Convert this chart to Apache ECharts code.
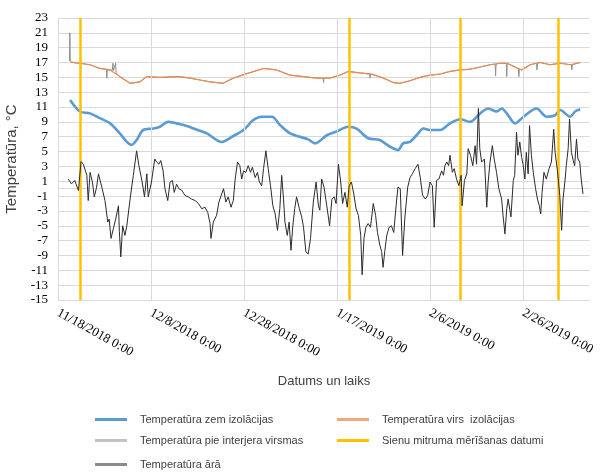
<!DOCTYPE html>
<html><head><meta charset="utf-8">
<script src="https://cdn.jsdelivr.net/npm/echarts@6/dist/echarts.min.js"></script>
<style>html,body{margin:0;padding:0;background:#fff}#c{width:600px;height:476px}</style>
</head><body><div id="c"></div>
<script>
// x = days since 11/18/2018 0:00
const xTickLabels = ['11/18/2018 0:00','12/8/2018 0:00','12/28/2018 0:00','1/17/2019 0:00','2/6/2019 0:00','2/26/2019 0:00'];
const seriesNames = ['Temperatūra zem izolācijas','Temperatūra virs  izolācijas','Temperatūra pie interjera virsmas','Sienu mitruma mērīšanas datumi','Temperatūra ārā'];

const underInsulation = [[2.6,11.95],[4.7,10.4],[6.9,10.15],[9.0,9.5],[11.2,8.8],[13.3,7.45],[14.8,6.3],[15.8,5.9],[16.9,6.55],[18.3,7.9],[20.5,8.1],[21.9,8.35],[23.7,9.0],[25.5,8.8],[27.7,8.45],[30.5,7.8],[32.0,7.45],[35.2,6.3],[37.7,7.1],[39.9,7.9],[42.0,9.25],[43.8,9.7],[46.0,9.7],[47.7,8.6],[49.9,7.45],[52.0,7.0],[53.8,6.65],[55.3,6.1],[57.8,7.2],[59.9,7.7],[62.4,8.35],[64.2,8.1],[66.7,6.8],[69.2,6.55],[71.4,5.65],[73.1,5.2],[74.2,6.1],[75.7,6.3],[77.1,7.2],[78.6,8.1],[80.0,7.9],[82.2,7.9],[84.3,8.8],[86.5,9.35],[88.6,9.0],[90.8,10.15],[92.5,10.8],[94.3,10.4],[95.4,10.8],[96.5,10.15],[98.3,8.8],[100.1,9.7],[102.9,10.8],[105.1,9.7],[106.9,9.9],[108.0,10.6],[110.1,9.7],[111.2,10.4],[112.3,10.7]];

const aboveInsulation = [[2.6,17.1],[4.7,16.9],[6.9,16.7],[9.0,16.2],[11.2,16.0],[13.3,15.1],[15.5,14.2],[17.6,14.4],[19.1,15.1],[21.9,15.0],[26.2,15.1],[28.4,14.9],[30.5,14.65],[32.7,14.4],[35.5,14.2],[37.7,14.9],[40.6,15.5],[44.2,16.2],[47.0,16.0],[49.9,15.3],[52.8,15.1],[55.6,14.9],[58.5,14.9],[60.6,15.3],[62.4,15.8],[64.9,15.6],[67.5,15.45],[70.0,14.9],[72.1,14.3],[73.5,14.2],[75.7,14.55],[77.8,15.0],[80.0,15.3],[82.2,15.45],[84.3,15.8],[86.5,16.0],[88.6,16.1],[90.8,16.4],[92.9,16.7],[95.1,16.9],[96.5,16.9],[98.3,16.4],[99.7,16.0],[101.5,16.7],[103.7,17.0],[105.8,16.7],[108.0,16.9],[110.1,16.7],[112.3,17.0]];

const interiorSurface = [[2.45,17.2],[2.55,21.0],[2.65,17.3],[2.9,17.0],[4.7,16.9],[6.9,16.7],[9.0,16.2],[10.4,16.1],[10.5,14.9],[10.6,16.0],[11.2,16.0],[11.7,16.0],[11.8,16.9],[11.9,15.9],[12.3,15.8],[12.4,16.9],[12.5,15.6],[13.3,15.1],[15.5,14.2],[17.6,14.4],[19.1,15.1],[21.9,15.0],[26.2,15.1],[28.4,14.9],[30.5,14.65],[32.7,14.4],[35.5,14.2],[37.7,14.9],[40.6,15.5],[44.2,16.2],[47.0,16.0],[49.9,15.3],[52.8,15.1],[55.6,14.9],[57.0,14.9],[57.1,14.3],[57.2,14.9],[58.5,14.9],[60.6,15.3],[62.4,15.8],[64.9,15.6],[67.0,15.45],[67.1,14.9],[67.2,15.45],[70.0,14.9],[72.1,14.3],[73.5,14.2],[75.7,14.55],[77.8,15.0],[80.0,15.3],[82.2,15.45],[84.3,15.8],[86.5,16.0],[88.6,16.1],[90.8,16.4],[92.9,16.7],[94.0,16.8],[94.1,15.2],[94.2,16.8],[95.1,16.9],[96.4,16.9],[96.5,15.1],[96.6,16.9],[98.3,16.4],[99.0,16.1],[99.1,15.1],[99.2,16.1],[99.7,16.0],[101.5,16.7],[102.9,16.9],[103.0,16.0],[103.1,16.9],[103.7,17.0],[105.8,16.7],[108.0,16.9],[110.4,16.7],[110.5,16.0],[110.6,16.7],[112.3,17.0]];

const outdoor = [[2.2,1.3],[2.9,0.65],[3.6,1.1],[4.4,-0.25],[4.95,3.65],[5.45,3.3],[6.2,1.8],[6.5,-1.6],[6.9,2.2],[7.4,0.9],[7.8,-1.1],[8.3,0.2],[8.7,2.0],[9.0,2.2],[9.5,0],[10.1,-1.6],[10.7,-4.5],[11.0,-4.1],[11.4,-6.7],[11.9,-5.4],[12.4,-4.1],[13.0,-2.3],[13.2,-5.8],[13.5,-9.2],[13.9,-5.0],[14.4,-6.3],[14.8,-5.0],[15.5,-1.4],[16.2,1.8],[16.9,5.1],[17.4,3.1],[17.8,3.3],[18.1,0.9],[18.6,-1.1],[19.1,2.0],[19.4,-1.1],[20.1,0.9],[20.8,4.0],[21.2,3.6],[21.7,3.3],[22.1,3.8],[22.6,2.4],[23.0,0],[23.6,-1.6],[24.1,0.9],[24.6,1.1],[25.0,-0.5],[25.5,0.6],[26.0,0],[26.6,-0.2],[27.3,-0.9],[28.0,-1.1],[28.7,-1.4],[29.5,-1.6],[30.2,-2.0],[30.9,-2.7],[31.6,-2.5],[32.2,-3.2],[32.7,-4.7],[32.9,-6.7],[33.4,-4.5],[34.1,-3.6],[34.6,-1.8],[35.2,-0.7],[35.6,0],[36.1,-1.8],[36.6,-1.1],[37.2,-2.5],[37.7,-1.6],[38.1,1.3],[38.6,3.6],[39.1,3.1],[39.5,1.3],[39.9,2.4],[40.4,2.2],[40.9,3.1],[41.4,2.2],[41.8,2.9],[42.4,1.5],[42.9,2.2],[43.3,0.9],[43.8,0.4],[44.2,2.7],[44.7,5.1],[45.2,2.7],[45.7,0.4],[46.2,-2.3],[46.7,-3.4],[47.2,-5.6],[47.7,-2.7],[48.1,1.8],[48.5,-1.4],[48.8,-4.5],[49.3,-6.3],[49.7,-4.5],[50.1,-8.3],[50.5,-5.0],[50.9,-2.7],[51.3,-1.1],[51.9,-2.7],[52.4,-3.8],[52.8,-5.2],[53.3,-8.5],[53.8,-8.8],[54.3,-6.7],[54.9,-1.8],[55.5,0.9],[56.0,-2.3],[56.3,-2.9],[56.7,1.3],[57.2,0.2],[57.8,-2.3],[58.4,-5.0],[58.9,-1.4],[59.4,-1.1],[59.8,-2.0],[60.3,3.3],[60.8,0.9],[61.2,-2.0],[61.7,-0.5],[62.2,-2.5],[62.6,0.4],[63.1,0.9],[63.6,-0.7],[64.1,-2.7],[64.6,-3.6],[65.1,-6.3],[65.4,-11.6],[65.8,-6.7],[66.2,-5.2],[66.7,-4.7],[67.2,-5.2],[67.8,-2.0],[68.3,-3.6],[68.7,-5.9],[69.2,-7.6],[69.6,-8.5],[69.9,-10.6],[70.3,-8.3],[70.7,-6.3],[71.2,-5.2],[71.7,-5.0],[72.2,-5.9],[72.7,-2.3],[73.1,0.2],[73.6,0],[74.1,-9.0],[74.6,-3.8],[75.2,0.2],[75.7,1.5],[76.2,2.0],[76.8,2.7],[77.4,3.3],[77.9,1.5],[78.4,-0.9],[79.0,-1.4],[79.5,-0.9],[80.0,0.9],[80.5,0.4],[80.9,-5.2],[81.4,1.1],[81.9,1.3],[82.5,2.4],[82.9,1.8],[83.2,3.1],[83.6,3.6],[84.0,3.1],[84.3,4.5],[84.8,2.2],[85.2,2.7],[85.7,1.3],[86.2,0.4],[86.7,1.8],[86.9,-2.3],[87.4,1.1],[87.9,2.0],[88.2,5.4],[88.7,4.5],[89.2,3.1],[89.7,5.8],[90.0,3.3],[90.4,10.8],[90.7,5.4],[91.1,3.6],[91.7,4.0],[92.2,-2.5],[92.5,0.9],[92.9,3.6],[93.4,5.8],[93.8,4.0],[94.3,2.2],[94.8,0],[95.4,-1.4],[95.7,-3.6],[96.1,-6.1],[96.5,-2.7],[96.8,-1.4],[97.4,-3.8],[97.9,1.1],[98.2,1.8],[98.6,7.6],[98.9,4.5],[99.3,6.3],[99.7,4.2],[100.0,3.3],[100.4,1.3],[100.7,4.9],[101.1,2.0],[101.4,8.5],[101.8,4.5],[102.2,2.2],[102.7,0],[103.1,-1.4],[103.5,-2.3],[103.8,-3.4],[104.1,-0.5],[104.5,2.2],[105.0,1.3],[105.6,2.7],[106.1,3.6],[106.6,8.0],[106.9,4.9],[107.4,2.4],[107.9,-0.9],[108.3,-5.6],[108.6,-1.4],[109.0,0.9],[109.3,3.1],[109.7,5.4],[110.0,9.4],[110.4,4.9],[110.8,3.8],[111.1,3.1],[111.5,6.7],[111.8,4.0],[112.2,3.6],[112.5,1.3],[112.9,-0.7]];

const measurementDays = [4.73, 62.6, 86.45, 107.5];
const xGridDays = [0, 20, 40, 60, 80, 100];

const chart = echarts.init(document.getElementById('c'));
const legendText = {fontFamily:'Liberation Sans, Arial, sans-serif', fontSize:11, color:'#404040', padding:[0,0,0,8]};
function lg(name, color, left, top){
  return {show:true, left:left, top:top, padding:0, icon:'rect', itemWidth:32, itemHeight:3,
    textStyle:legendText, selectedMode:false, data:[{name:name, itemStyle:{color:color}}]};
}
chart.setOption({
  animation:false,
  backgroundColor:'#fff',
  grid:{left:58, right:10, top:18, bottom:176, containLabel:false, outerBoundsMode:'none'},
  legend:[
    lg(seriesNames[0], '#5B9BD5', 95, 414),
    lg(seriesNames[1], '#F4A67C', 337, 414),
    lg(seriesNames[2], '#C3C3C3', 95, 435),
    lg(seriesNames[3], '#FFC000', 337, 435),
    lg(seriesNames[4], '#8C8C8C', 95, 459)
  ],
  xAxis:{
    type:'value', min:0, max:114.4, interval:20,
    name:'Datums un laiks', nameLocation:'middle', nameGap:75,
    nameTextStyle:{fontFamily:'Liberation Sans, Arial, sans-serif', fontSize:13, color:'#404040'},
    axisLine:{show:true, lineStyle:{color:'#d9d9d9'}},
    axisTick:{show:false},
    splitLine:{show:false},
    axisLabel:{rotate:-29, margin:12, fontFamily:'Liberation Serif, Times New Roman, serif', fontSize:13, color:'#000',
      showMaxLabel:false,
      formatter:function(v){ const i = Math.round(v/20); return (Math.abs(v - i*20) < 1e-6 && xTickLabels[i]) ? xTickLabels[i] : ''; }}
  },
  yAxis:{
    type:'value', min:-15, max:23, interval:2,
    name:'Temperatūra, °C', nameLocation:'middle', nameGap:33,
    nameTextStyle:{fontFamily:'Liberation Sans, Arial, sans-serif', fontSize:15, color:'#404040'},
    axisLine:{show:false}, axisTick:{show:false},
    axisLabel:{margin:10, fontFamily:'Liberation Serif, Times New Roman, serif', fontSize:13, color:'#000'},
    splitLine:{show:true, lineStyle:{color:'#d9d9d9', width:1}}
  },
  series:[
    {name:seriesNames[0], type:'line', data:underInsulation, showSymbol:false, smooth:0.3, color:'#5B9BD5', lineStyle:{width:2.6, color:'#5B9BD5'}, z:3},
    {name:seriesNames[1], type:'line', data:aboveInsulation, showSymbol:false, color:'#ED7D31', lineStyle:{width:1.2, color:'#EE8A50'}, z:4},
    {name:seriesNames[2], type:'line', data:interiorSurface, showSymbol:false, color:'#A5A5A5', lineStyle:{width:1, color:'#8f8f8f'}, z:2},
    {name:seriesNames[3], type:'line', data:[], color:'#FFC000', z:5,
      markLine:{silent:true, symbol:['none','none'], label:{show:false},
        lineStyle:{color:'#FFC000', width:2.5, type:'solid'},
        data:measurementDays.map(d=>({xAxis:d}))}},
    {name:seriesNames[4], type:'line', data:outdoor, showSymbol:false, color:'#404040', lineStyle:{width:1, color:'#2b2b2b'}, z:6},
    {name:'grid', type:'line', data:[], z:1,
      markLine:{silent:true, symbol:['none','none'], label:{show:false},
        lineStyle:{color:'#d9d9d9', width:1, type:'solid'},
        data:xGridDays.map(d=>({xAxis:d}))}}
  ]
});
</script>
</body></html>
